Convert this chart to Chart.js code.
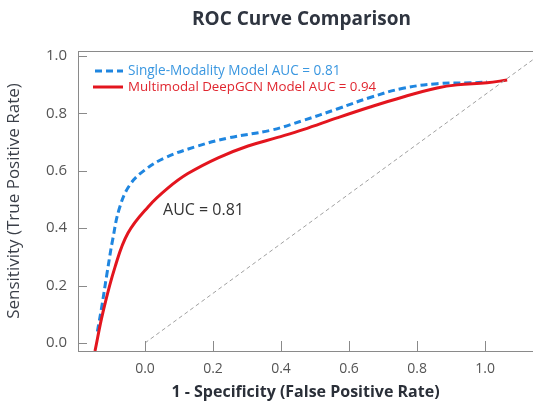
<!DOCTYPE html>
<html><head><meta charset="utf-8">
<script src="https://cdn.jsdelivr.net/npm/chart.js@4"></script>
<style>html,body{margin:0;padding:0;background:#fff}#wrap{width:533px;height:406px}</style>
</head><body><div id="wrap"><canvas id="c" width="533" height="406"></canvas></div>
<script>
const chartTitle = "ROC Curve Comparison";
const xTitle = "1 - Specificity (False Positive Rate)";
const yTitle = "Sensitivity (True Positive Rate)";
const xTicks = [0.0, 0.2, 0.4, 0.6, 0.8, 1.0];
const yTicks = [0.0, 0.2, 0.4, 0.6, 0.8, 1.0];
const seriesNames = ["Single-Modality Model AUC = 0.81", "Multimodal DeepGCN Model AUC = 0.94"];
const fprSingle = [-0.14, -0.128, -0.112, -0.095, -0.075, -0.045, 0.0, 0.059, 0.147, 0.244, 0.37, 0.465, 0.565, 0.662, 0.759, 0.859, 0.956, 1.006];
const tprSingle = [0.04, 0.12, 0.24, 0.36, 0.47, 0.55, 0.603, 0.645, 0.683, 0.714, 0.741, 0.775, 0.815, 0.855, 0.887, 0.903, 0.906, 0.909];
const fprMulti = [-0.147, -0.124, -0.088, -0.05, 0.009, 0.068, 0.126, 0.215, 0.303, 0.39, 0.465, 0.565, 0.662, 0.759, 0.859, 0.918, 1.006, 1.065];
const tprMulti = [-0.028, 0.105, 0.265, 0.383, 0.474, 0.54, 0.59, 0.645, 0.686, 0.716, 0.743, 0.784, 0.822, 0.857, 0.888, 0.899, 0.906, 0.916];
const diagX = [0.0, 1.14];
const diagY = [0.0, 0.986];
const annotText = "AUC = 0.81";
const annotPos = [0.053, 0.463];

const BLUE = "#1f86e0", RED = "#e3151e";
const FONT = "'Open Sans', 'Noto Sans', sans-serif";
const zip = (xs, ys) => xs.map((x, i) => ({x, y: ys[i]}));

const decor = {
  id: 'decor',
  afterDraw(chart) {
    const ctx = chart.ctx, a = chart.chartArea, xs = chart.scales.x, ys = chart.scales.y;
    ctx.save();
    ctx.strokeStyle = '#8a8a8a'; ctx.lineWidth = 1;
    ctx.beginPath(); ctx.moveTo(a.left, a.top + 0.5); ctx.lineTo(a.right, a.top + 0.5); ctx.stroke();
    xTicks.forEach(v => { const p = Math.round(xs.getPixelForValue(v)) + 0.5;
      ctx.beginPath(); ctx.moveTo(p, a.bottom); ctx.lineTo(p, a.bottom - 10); ctx.stroke(); });
    yTicks.forEach(v => { const p = Math.round(ys.getPixelForValue(v)) + 0.5;
      ctx.beginPath(); ctx.moveTo(a.left, p); ctx.lineTo(a.left + 9, p); ctx.stroke(); });
    ctx.fillStyle = '#2f3540'; ctx.font = `bold 19px ${FONT}`;
    ctx.textAlign = 'center'; ctx.textBaseline = 'middle';
    ctx.fillText(chartTitle, (a.left + a.right) / 2 - 4, 20);
    ctx.fillStyle = '#333'; ctx.font = `16px ${FONT}`; ctx.textAlign = 'left';
    ctx.fillText(annotText, xs.getPixelForValue(annotPos[0]), ys.getPixelForValue(annotPos[1]));
    const lx = a.left + 16, ly1 = a.top + 20, ly2 = a.top + 36;
    ctx.lineWidth = 3;
    ctx.strokeStyle = BLUE; ctx.setLineDash([7, 4]);
    ctx.beginPath(); ctx.moveTo(lx + 1, ly1); ctx.lineTo(lx + 29, ly1); ctx.stroke();
    ctx.setLineDash([]); ctx.strokeStyle = RED;
    ctx.beginPath(); ctx.moveTo(lx - 1, ly2); ctx.lineTo(lx + 29, ly2); ctx.stroke();
    ctx.font = `13.6px ${FONT}`;
    ctx.fillStyle = '#3a97e0'; ctx.fillText(seriesNames[0], lx + 34, ly1);
    ctx.font = `13.3px ${FONT}`;
    ctx.fillStyle = '#e0262f'; ctx.fillText(seriesNames[1], lx + 34, ly2);
    ctx.restore();
  }
};

new Chart(document.getElementById('c'), {
  type: 'scatter',
  data: {
    datasets: [
      { data: zip(diagX, diagY), showLine: true, borderColor: '#a0a0a0', borderWidth: 1, borderDash: [4, 3], pointRadius: 0 },
      { data: zip(fprMulti, tprMulti), showLine: true, borderColor: RED, borderWidth: 3, pointRadius: 0, tension: 0.4 },
      { data: zip(fprSingle, tprSingle), showLine: true, borderColor: BLUE, borderWidth: 3, borderDash: [7, 4], pointRadius: 0, tension: 0.4 }
    ]
  },
  options: {
    responsive: false, animation: false, devicePixelRatio: 1,
    layout: { padding: { top: 51, right: 0, left: 0, bottom: 0 } },
    plugins: { legend: { display: false }, tooltip: { enabled: false }, title: { display: false } },
    scales: {
      x: {
        type: 'linear', min: -0.197, max: 1.141,
        afterBuildTicks: s => { s.ticks = xTicks.map(v => ({value: v})); },
        afterFit: s => { s.height = 55; },
        grid: { display: false, drawTicks: false },
        border: { display: true, color: '#8a8a8a', width: 1 },
        ticks: { padding: 10, color: '#555', font: { family: FONT, size: 14 }, callback: v => Number(v).toFixed(1), maxRotation: 0 },
        title: { display: true, text: xTitle, color: '#2a2f38', font: { family: FONT, size: 16, weight: 'bold' }, padding: { top: 4 } }
      },
      y: {
        type: 'linear', min: -0.028, max: 1.017,
        afterBuildTicks: s => { s.ticks = yTicks.map(v => ({value: v})); },
        afterFit: s => { s.width = 78; },
        grid: { display: false, drawTicks: false },
        border: { display: true, color: '#8a8a8a', width: 1 },
        ticks: { padding: 11, color: '#555', font: { family: FONT, size: 15 }, callback: v => Number(v).toFixed(1) },
        title: { display: true, text: yTitle, color: '#3a3f48', font: { family: FONT, size: 17, weight: 'normal' }, padding: { bottom: 0 } }
      }
    }
  },
  plugins: [decor]
});
</script></body></html>
